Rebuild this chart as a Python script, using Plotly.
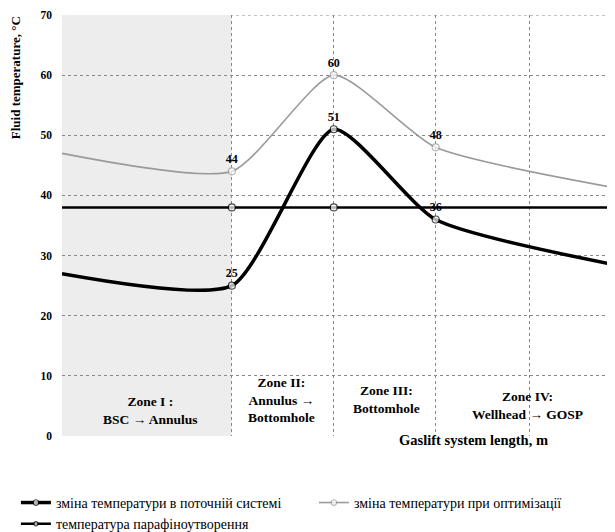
import plotly.graph_objects as go

# positions along the gaslift system (relative units, no tick labels on chart)
x_pos = [0, 1.0, 1.6, 2.2, 3.25]
grid_x = [1.0, 1.6, 2.2, 2.75, 3.25]

current_temp = [27, 25, 51, 36, 28.5]
current_labels = ["", "25", "51", "36", "28"]

optim_temp = [47, 44, 60, 48, 41.3]
optim_labels = ["", "44", "60", "48", "41"]

wax_temp = [38, 38, 38, 38, 38]

y_ticks = [0, 10, 20, 30, 40, 50, 60, 70]

zones = [
    (0.52, 4.3, "Zone I :<br>BSC → Annulus"),
    (1.29, 6.0, "Zone II:<br>Annulus →<br>Bottomhole"),
    (1.91, 6.0, "Zone III:<br>Bottomhole"),
    (2.74, 5.0, "Zone IV:<br>Wellhead → GOSP"),
]

names = [
    "зміна температури в поточній системі",
    "зміна температури при оптимізації",
    "температура парафіноутворення",
]

SERIF = "Liberation Serif, Times New Roman, serif"
msize = [0, 7, 7, 7, 7]
msize_wax = [0, 7, 7, 0, 7]

fig = go.Figure()

fig.add_trace(go.Scatter(
    x=x_pos, y=current_temp, name=names[0],
    mode="lines+markers+text", text=current_labels, textposition="top center",
    textfont=dict(family=SERIF, size=12, color="black", weight="bold"),
    line=dict(color="black", width=3.5, shape="spline", smoothing=0.6),
    marker=dict(symbol="circle", size=msize, color="white",
                line=dict(color="black", width=1.2)),
))
fig.add_trace(go.Scatter(
    x=x_pos, y=optim_temp, name=names[1],
    mode="lines+markers+text", text=optim_labels, textposition="top center",
    textfont=dict(family=SERIF, size=12, color="black", weight="bold"),
    line=dict(color="#9a9a9a", width=1.6, shape="spline", smoothing=0.6),
    marker=dict(symbol="circle", size=msize, color="white",
                line=dict(color="#9a9a9a", width=1.2)),
))
fig.add_trace(go.Scatter(
    x=x_pos, y=wax_temp, name=names[2],
    mode="lines+markers",
    line=dict(color="black", width=2.5),
    marker=dict(symbol="circle", size=msize_wax, color="white",
                line=dict(color="black", width=1.2)),
))

# Zone I shading
fig.add_shape(type="rect", xref="x", yref="y", x0=0, x1=1.0, y0=0, y1=70,
              fillcolor="#ededed", line=dict(width=0), layer="below")
# top border
fig.add_shape(type="line", xref="paper", yref="y", x0=0, x1=1, y0=70, y1=70,
              line=dict(color="#888", width=1, dash="dot"), layer="below")

for zx, zy, zt in zones:
    fig.add_annotation(x=zx, y=zy, xref="x", yref="y", text=zt, showarrow=False,
                       font=dict(family=SERIF, size=13.5, color="black", weight="bold"),
                       align="center")

fig.add_annotation(x=2.42, y=-0.033, xref="x", yref="paper",
                   text="Gaslift system length, m", showarrow=False,
                   font=dict(family=SERIF, size=14.5, color="black", weight="bold"))
fig.add_annotation(x=-0.085, y=0.85, xref="paper", yref="paper",
                   xanchor="center", yanchor="middle",
                   text="Fluid temperature, °C", showarrow=False, textangle=-90,
                   font=dict(family=SERIF, size=13, color="black", weight="bold"))

fig.update_xaxes(range=[0, 3.25], tickvals=grid_x, showticklabels=False,
                 showgrid=True, gridcolor="#888", griddash="dot", gridwidth=1,
                 zeroline=False, showline=False, ticks="")
fig.update_yaxes(range=[0, 70], tickvals=y_ticks, ticktext=[str(v) for v in y_ticks],
                 showgrid=True, gridcolor="#888", griddash="dot", gridwidth=1,
                 zeroline=False, showline=False, ticks="", ticklabelstandoff=9,
                 tickfont=dict(family=SERIF, size=11.5, color="black", weight="bold"))

fig.update_layout(
    width=607, height=524,
    margin=dict(l=54, r=1, t=7, b=96, autoexpand=False),
    paper_bgcolor="white", plot_bgcolor="white",
    showlegend=True,
    legend=dict(orientation="h", xref="paper", yref="paper",
                x=-0.0835, xanchor="left", y=-0.121, yanchor="top",
                entrywidth=253, entrywidthmode="pixels", tracegroupgap=0,
                font=dict(family=SERIF, size=14, color="black"),
                itemwidth=30, traceorder="normal"),
)

fig.write_html("out.html")
